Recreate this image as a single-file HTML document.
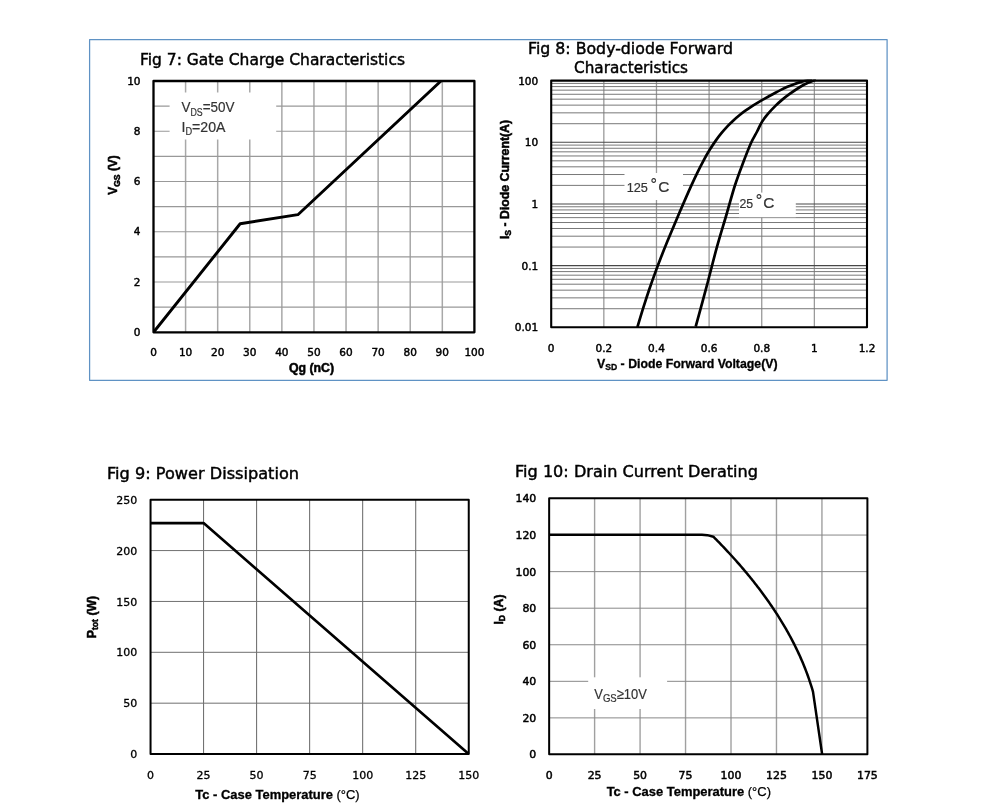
<!DOCTYPE html>
<html lang="en"><head><meta charset="utf-8"><title>Characteristics</title>
<style>html,body{margin:0;padding:0;background:#fff}svg{display:block}</style></head>
<body>
<svg width="987" height="812" viewBox="0 0 987 812">
<rect width="987" height="812" fill="#fff"/>
<rect x="89.60" y="39.55" width="797.50" height="340.70" fill="#fff" stroke="#5f92c4" stroke-width="1.25" stroke-linejoin="round"/>
<line x1="185.59" y1="81.00" x2="185.59" y2="332.30" stroke="#a8a8a8" stroke-width="1.5" />
<line x1="217.68" y1="81.00" x2="217.68" y2="332.30" stroke="#a8a8a8" stroke-width="1.5" />
<line x1="249.77" y1="81.00" x2="249.77" y2="332.30" stroke="#a8a8a8" stroke-width="1.5" />
<line x1="281.86" y1="81.00" x2="281.86" y2="332.30" stroke="#a8a8a8" stroke-width="1.5" />
<line x1="313.95" y1="81.00" x2="313.95" y2="332.30" stroke="#a8a8a8" stroke-width="1.5" />
<line x1="346.04" y1="81.00" x2="346.04" y2="332.30" stroke="#a8a8a8" stroke-width="1.5" />
<line x1="378.13" y1="81.00" x2="378.13" y2="332.30" stroke="#a8a8a8" stroke-width="1.5" />
<line x1="410.22" y1="81.00" x2="410.22" y2="332.30" stroke="#a8a8a8" stroke-width="1.5" />
<line x1="442.31" y1="81.00" x2="442.31" y2="332.30" stroke="#a8a8a8" stroke-width="1.5" />
<line x1="153.50" y1="106.13" x2="474.40" y2="106.13" stroke="#999999" stroke-width="1.1" />
<line x1="153.50" y1="131.26" x2="474.40" y2="131.26" stroke="#999999" stroke-width="1.1" />
<line x1="153.50" y1="156.39" x2="474.40" y2="156.39" stroke="#999999" stroke-width="1.1" />
<line x1="153.50" y1="181.52" x2="474.40" y2="181.52" stroke="#999999" stroke-width="1.1" />
<line x1="153.50" y1="206.65" x2="474.40" y2="206.65" stroke="#999999" stroke-width="1.1" />
<line x1="153.50" y1="231.78" x2="474.40" y2="231.78" stroke="#999999" stroke-width="1.1" />
<line x1="153.50" y1="256.91" x2="474.40" y2="256.91" stroke="#999999" stroke-width="1.1" />
<line x1="153.50" y1="282.04" x2="474.40" y2="282.04" stroke="#999999" stroke-width="1.1" />
<line x1="153.50" y1="307.17" x2="474.40" y2="307.17" stroke="#999999" stroke-width="1.1" />
<rect x="169.60" y="92.50" width="106.60" height="47.00" fill="#fff" stroke="none" stroke-width="1" />
<clipPath id="c1"><rect x="153.5" y="80.0" width="320.9" height="253.3"/></clipPath>
<polyline points="153.50,332.30 240.14,223.74 297.90,214.69 442.31,79.74" fill="none" stroke="#000" stroke-width="2.9" stroke-linejoin="round" clip-path="url(#c1)"/>
<rect x="153.50" y="81.00" width="320.90" height="251.30" fill="none" stroke="#000" stroke-width="2.3" stroke-linejoin="round"/>
<text x="140.00" y="65.20" font-family='"DejaVu Sans", "Liberation Sans", sans-serif' font-size="15.8" font-weight="normal" text-anchor="start" fill="#000" textLength="265" lengthAdjust="spacingAndGlyphs" stroke="#000" stroke-width="0.45" >Fig 7: Gate Charge Characteristics</text>
<text x="153.50" y="356.30" font-family='"DejaVu Sans", "Liberation Sans", sans-serif' font-size="10.5" font-weight="normal" text-anchor="middle" fill="#000" stroke="#000" stroke-width="0.45" >0</text>
<text x="185.59" y="356.30" font-family='"DejaVu Sans", "Liberation Sans", sans-serif' font-size="10.5" font-weight="normal" text-anchor="middle" fill="#000" stroke="#000" stroke-width="0.45" >10</text>
<text x="217.68" y="356.30" font-family='"DejaVu Sans", "Liberation Sans", sans-serif' font-size="10.5" font-weight="normal" text-anchor="middle" fill="#000" stroke="#000" stroke-width="0.45" >20</text>
<text x="249.77" y="356.30" font-family='"DejaVu Sans", "Liberation Sans", sans-serif' font-size="10.5" font-weight="normal" text-anchor="middle" fill="#000" stroke="#000" stroke-width="0.45" >30</text>
<text x="281.86" y="356.30" font-family='"DejaVu Sans", "Liberation Sans", sans-serif' font-size="10.5" font-weight="normal" text-anchor="middle" fill="#000" stroke="#000" stroke-width="0.45" >40</text>
<text x="313.95" y="356.30" font-family='"DejaVu Sans", "Liberation Sans", sans-serif' font-size="10.5" font-weight="normal" text-anchor="middle" fill="#000" stroke="#000" stroke-width="0.45" >50</text>
<text x="346.04" y="356.30" font-family='"DejaVu Sans", "Liberation Sans", sans-serif' font-size="10.5" font-weight="normal" text-anchor="middle" fill="#000" stroke="#000" stroke-width="0.45" >60</text>
<text x="378.13" y="356.30" font-family='"DejaVu Sans", "Liberation Sans", sans-serif' font-size="10.5" font-weight="normal" text-anchor="middle" fill="#000" stroke="#000" stroke-width="0.45" >70</text>
<text x="410.22" y="356.30" font-family='"DejaVu Sans", "Liberation Sans", sans-serif' font-size="10.5" font-weight="normal" text-anchor="middle" fill="#000" stroke="#000" stroke-width="0.45" >80</text>
<text x="442.31" y="356.30" font-family='"DejaVu Sans", "Liberation Sans", sans-serif' font-size="10.5" font-weight="normal" text-anchor="middle" fill="#000" stroke="#000" stroke-width="0.45" >90</text>
<text x="474.40" y="356.30" font-family='"DejaVu Sans", "Liberation Sans", sans-serif' font-size="10.5" font-weight="normal" text-anchor="middle" fill="#000" stroke="#000" stroke-width="0.45" >100</text>
<text x="140.50" y="335.80" font-family='"DejaVu Sans", "Liberation Sans", sans-serif' font-size="10.5" font-weight="normal" text-anchor="end" fill="#000" stroke="#000" stroke-width="0.45" >0</text>
<text x="140.50" y="285.54" font-family='"DejaVu Sans", "Liberation Sans", sans-serif' font-size="10.5" font-weight="normal" text-anchor="end" fill="#000" stroke="#000" stroke-width="0.45" >2</text>
<text x="140.50" y="235.28" font-family='"DejaVu Sans", "Liberation Sans", sans-serif' font-size="10.5" font-weight="normal" text-anchor="end" fill="#000" stroke="#000" stroke-width="0.45" >4</text>
<text x="140.50" y="185.02" font-family='"DejaVu Sans", "Liberation Sans", sans-serif' font-size="10.5" font-weight="normal" text-anchor="end" fill="#000" stroke="#000" stroke-width="0.45" >6</text>
<text x="140.50" y="134.76" font-family='"DejaVu Sans", "Liberation Sans", sans-serif' font-size="10.5" font-weight="normal" text-anchor="end" fill="#000" stroke="#000" stroke-width="0.45" >8</text>
<text x="140.50" y="84.50" font-family='"DejaVu Sans", "Liberation Sans", sans-serif' font-size="10.5" font-weight="normal" text-anchor="end" fill="#000" stroke="#000" stroke-width="0.45" >10</text>
<text x="181.50" y="112.00" font-family='"Liberation Sans", "DejaVu Sans", sans-serif' font-size="15.3" font-weight="normal" text-anchor="start" fill="#333333" textLength="53" lengthAdjust="spacingAndGlyphs" stroke="#333333" stroke-width="0.2" >V<tspan font-size="10" dy="3.5">DS</tspan><tspan dy="-3.5">=50V</tspan></text>
<text x="181.50" y="131.70" font-family='"Liberation Sans", "DejaVu Sans", sans-serif' font-size="15.3" font-weight="normal" text-anchor="start" fill="#333333" textLength="44" lengthAdjust="spacingAndGlyphs" stroke="#333333" stroke-width="0.2" >I<tspan font-size="10" dy="3.5">D</tspan><tspan dy="-3.5">=20A</tspan></text>
<text transform="translate(117.30,175.00) rotate(-90)" font-family='"Liberation Sans", "DejaVu Sans", sans-serif' font-size="11.9" font-weight="bold" text-anchor="middle" fill="#000" stroke="#000" stroke-width="0.5">V<tspan font-size="8.6" dy="3">GS</tspan><tspan dy="-3"> (V)</tspan></text>
<text x="311.50" y="372.40" font-family='"Liberation Sans", "DejaVu Sans", sans-serif' font-size="12.3" font-weight="bold" text-anchor="middle" fill="#000" stroke="#000" stroke-width="0.5" >Qg (nC)</text>
<line x1="603.83" y1="80.60" x2="603.83" y2="327.30" stroke="#9a9a9a" stroke-width="1.3" />
<line x1="656.47" y1="80.60" x2="656.47" y2="327.30" stroke="#9a9a9a" stroke-width="1.3" />
<line x1="709.10" y1="80.60" x2="709.10" y2="327.30" stroke="#9a9a9a" stroke-width="1.3" />
<line x1="761.73" y1="80.60" x2="761.73" y2="327.30" stroke="#9a9a9a" stroke-width="1.3" />
<line x1="814.37" y1="80.60" x2="814.37" y2="327.30" stroke="#9a9a9a" stroke-width="1.3" />
<line x1="551.20" y1="308.73" x2="867.00" y2="308.73" stroke="#787878" stroke-width="1.0" />
<line x1="551.20" y1="297.87" x2="867.00" y2="297.87" stroke="#787878" stroke-width="1.0" />
<line x1="551.20" y1="290.17" x2="867.00" y2="290.17" stroke="#787878" stroke-width="1.0" />
<line x1="551.20" y1="284.19" x2="867.00" y2="284.19" stroke="#787878" stroke-width="1.0" />
<line x1="551.20" y1="279.31" x2="867.00" y2="279.31" stroke="#787878" stroke-width="1.0" />
<line x1="551.20" y1="275.18" x2="867.00" y2="275.18" stroke="#787878" stroke-width="1.0" />
<line x1="551.20" y1="271.60" x2="867.00" y2="271.60" stroke="#787878" stroke-width="1.0" />
<line x1="551.20" y1="268.45" x2="867.00" y2="268.45" stroke="#787878" stroke-width="1.0" />
<line x1="551.20" y1="247.06" x2="867.00" y2="247.06" stroke="#787878" stroke-width="1.0" />
<line x1="551.20" y1="236.20" x2="867.00" y2="236.20" stroke="#787878" stroke-width="1.0" />
<line x1="551.20" y1="228.49" x2="867.00" y2="228.49" stroke="#787878" stroke-width="1.0" />
<line x1="551.20" y1="222.52" x2="867.00" y2="222.52" stroke="#787878" stroke-width="1.0" />
<line x1="551.20" y1="217.63" x2="867.00" y2="217.63" stroke="#787878" stroke-width="1.0" />
<line x1="551.20" y1="213.50" x2="867.00" y2="213.50" stroke="#787878" stroke-width="1.0" />
<line x1="551.20" y1="209.93" x2="867.00" y2="209.93" stroke="#787878" stroke-width="1.0" />
<line x1="551.20" y1="206.77" x2="867.00" y2="206.77" stroke="#787878" stroke-width="1.0" />
<line x1="551.20" y1="185.38" x2="867.00" y2="185.38" stroke="#787878" stroke-width="1.0" />
<line x1="551.20" y1="174.52" x2="867.00" y2="174.52" stroke="#787878" stroke-width="1.0" />
<line x1="551.20" y1="166.82" x2="867.00" y2="166.82" stroke="#787878" stroke-width="1.0" />
<line x1="551.20" y1="160.84" x2="867.00" y2="160.84" stroke="#787878" stroke-width="1.0" />
<line x1="551.20" y1="155.96" x2="867.00" y2="155.96" stroke="#787878" stroke-width="1.0" />
<line x1="551.20" y1="151.83" x2="867.00" y2="151.83" stroke="#787878" stroke-width="1.0" />
<line x1="551.20" y1="148.25" x2="867.00" y2="148.25" stroke="#787878" stroke-width="1.0" />
<line x1="551.20" y1="145.10" x2="867.00" y2="145.10" stroke="#787878" stroke-width="1.0" />
<line x1="551.20" y1="123.71" x2="867.00" y2="123.71" stroke="#787878" stroke-width="1.0" />
<line x1="551.20" y1="112.85" x2="867.00" y2="112.85" stroke="#787878" stroke-width="1.0" />
<line x1="551.20" y1="105.14" x2="867.00" y2="105.14" stroke="#787878" stroke-width="1.0" />
<line x1="551.20" y1="99.17" x2="867.00" y2="99.17" stroke="#787878" stroke-width="1.0" />
<line x1="551.20" y1="94.28" x2="867.00" y2="94.28" stroke="#787878" stroke-width="1.0" />
<line x1="551.20" y1="90.15" x2="867.00" y2="90.15" stroke="#787878" stroke-width="1.0" />
<line x1="551.20" y1="86.58" x2="867.00" y2="86.58" stroke="#787878" stroke-width="1.0" />
<line x1="551.20" y1="83.42" x2="867.00" y2="83.42" stroke="#787878" stroke-width="1.0" />
<line x1="551.20" y1="265.62" x2="867.00" y2="265.62" stroke="#484848" stroke-width="1.15" />
<line x1="551.20" y1="203.95" x2="867.00" y2="203.95" stroke="#484848" stroke-width="1.15" />
<line x1="551.20" y1="142.28" x2="867.00" y2="142.28" stroke="#484848" stroke-width="1.15" />
<rect x="624.50" y="173.00" width="58.50" height="27.00" fill="#fff" stroke="none" stroke-width="1" />
<rect x="739.00" y="192.60" width="56.80" height="24.60" fill="#fff" stroke="none" stroke-width="1" />
<clipPath id="c2"><rect x="551.2" y="79.6" width="315.79999999999995" height="248.70000000000002"/></clipPath>
<path d="M637.40,327.10 C638.40,323.82 641.40,313.75 643.40,307.40 C645.40,301.05 647.40,294.88 649.40,289.00 C651.40,283.12 653.40,277.55 655.40,272.10 C657.40,266.65 659.40,261.43 661.40,256.30 C663.40,251.17 665.40,246.20 667.40,241.30 C669.40,236.40 671.40,231.65 673.40,226.90 C675.40,222.15 677.40,217.47 679.40,212.80 C681.40,208.13 683.40,203.47 685.40,198.90 C687.40,194.33 689.40,189.78 691.40,185.40 C693.40,181.02 695.40,176.70 697.40,172.60 C699.40,168.50 701.40,164.52 703.40,160.80 C705.40,157.08 707.40,153.58 709.40,150.30 C711.40,147.02 713.40,143.95 715.40,141.10 C717.40,138.25 719.40,135.67 721.40,133.20 C723.40,130.73 725.40,128.43 727.40,126.30 C729.40,124.17 731.40,122.25 733.40,120.40 C735.40,118.55 737.40,116.82 739.40,115.20 C741.40,113.58 743.40,112.13 745.40,110.70 C747.40,109.27 749.40,107.90 751.40,106.60 C753.40,105.30 755.40,104.10 757.40,102.90 C759.40,101.70 761.40,100.55 763.40,99.40 C765.40,98.25 767.40,97.12 769.40,96.00 C771.40,94.88 773.40,93.77 775.40,92.70 C777.40,91.63 779.40,90.58 781.40,89.60 C783.40,88.62 785.40,87.67 787.40,86.80 C789.40,85.93 791.40,85.13 793.40,84.40 C795.40,83.67 797.40,83.00 799.40,82.40 C801.40,81.80 803.30,81.27 805.40,80.80 C807.50,80.33 810.90,79.80 812.00,79.60" fill="none" stroke="#000" stroke-width="2.7" clip-path="url(#c2)"/>
<path d="M695.70,326.70 C697.53,319.95 703.20,299.33 706.70,286.20 C710.20,273.07 713.40,259.85 716.70,247.90 C720.00,235.95 723.47,224.90 726.50,214.50 C729.53,204.10 732.12,194.17 734.90,185.50 C737.68,176.83 740.52,169.58 743.20,162.50 C745.88,155.42 748.68,148.17 751.00,143.00 C753.32,137.83 755.30,134.98 757.10,131.50 C758.90,128.02 759.97,125.07 761.80,122.10 C763.63,119.13 765.83,116.40 768.10,113.70 C770.37,111.00 773.13,108.17 775.40,105.90 C777.67,103.63 779.43,102.02 781.70,100.10 C783.97,98.18 785.95,96.58 789.00,94.40 C792.05,92.22 796.83,88.93 800.00,87.00 C803.17,85.07 805.33,84.03 808.00,82.80 C810.67,81.57 814.67,80.13 816.00,79.60" fill="none" stroke="#000" stroke-width="2.7" clip-path="url(#c2)"/>
<rect x="551.20" y="80.60" width="315.80" height="246.70" fill="none" stroke="#000" stroke-width="2.1" stroke-linejoin="round"/>
<text x="528.00" y="53.80" font-family='"DejaVu Sans", "Liberation Sans", sans-serif' font-size="15.8" font-weight="normal" text-anchor="start" fill="#000" textLength="205" lengthAdjust="spacingAndGlyphs" stroke="#000" stroke-width="0.45" >Fig 8: Body-diode Forward</text>
<text x="574.00" y="72.80" font-family='"DejaVu Sans", "Liberation Sans", sans-serif' font-size="15.8" font-weight="normal" text-anchor="start" fill="#000" textLength="114" lengthAdjust="spacingAndGlyphs" stroke="#000" stroke-width="0.45" >Characteristics</text>
<text x="551.20" y="351.80" font-family='"DejaVu Sans", "Liberation Sans", sans-serif' font-size="10.5" font-weight="normal" text-anchor="middle" fill="#000" stroke="#000" stroke-width="0.45" >0</text>
<text x="603.83" y="351.80" font-family='"DejaVu Sans", "Liberation Sans", sans-serif' font-size="10.5" font-weight="normal" text-anchor="middle" fill="#000" stroke="#000" stroke-width="0.45" >0.2</text>
<text x="656.47" y="351.80" font-family='"DejaVu Sans", "Liberation Sans", sans-serif' font-size="10.5" font-weight="normal" text-anchor="middle" fill="#000" stroke="#000" stroke-width="0.45" >0.4</text>
<text x="709.10" y="351.80" font-family='"DejaVu Sans", "Liberation Sans", sans-serif' font-size="10.5" font-weight="normal" text-anchor="middle" fill="#000" stroke="#000" stroke-width="0.45" >0.6</text>
<text x="761.73" y="351.80" font-family='"DejaVu Sans", "Liberation Sans", sans-serif' font-size="10.5" font-weight="normal" text-anchor="middle" fill="#000" stroke="#000" stroke-width="0.45" >0.8</text>
<text x="814.37" y="351.80" font-family='"DejaVu Sans", "Liberation Sans", sans-serif' font-size="10.5" font-weight="normal" text-anchor="middle" fill="#000" stroke="#000" stroke-width="0.45" >1</text>
<text x="867.00" y="351.80" font-family='"DejaVu Sans", "Liberation Sans", sans-serif' font-size="10.5" font-weight="normal" text-anchor="middle" fill="#000" stroke="#000" stroke-width="0.45" >1.2</text>
<text x="538.20" y="331.30" font-family='"DejaVu Sans", "Liberation Sans", sans-serif' font-size="10.5" font-weight="normal" text-anchor="end" fill="#000" stroke="#000" stroke-width="0.45" >0.01</text>
<text x="538.20" y="269.62" font-family='"DejaVu Sans", "Liberation Sans", sans-serif' font-size="10.5" font-weight="normal" text-anchor="end" fill="#000" stroke="#000" stroke-width="0.45" >0.1</text>
<text x="538.20" y="207.95" font-family='"DejaVu Sans", "Liberation Sans", sans-serif' font-size="10.5" font-weight="normal" text-anchor="end" fill="#000" stroke="#000" stroke-width="0.45" >1</text>
<text x="538.20" y="146.28" font-family='"DejaVu Sans", "Liberation Sans", sans-serif' font-size="10.5" font-weight="normal" text-anchor="end" fill="#000" stroke="#000" stroke-width="0.45" >10</text>
<text x="538.20" y="84.60" font-family='"DejaVu Sans", "Liberation Sans", sans-serif' font-size="10.5" font-weight="normal" text-anchor="end" fill="#000" stroke="#000" stroke-width="0.45" >100</text>
<text x="626.70" y="191.90" font-family='"Liberation Sans", "DejaVu Sans", sans-serif' font-size="13.7" font-weight="normal" text-anchor="start" fill="#333333" textLength="21.2" lengthAdjust="spacingAndGlyphs" stroke="#333333" stroke-width="0.2" >125</text>
<text x="653.80" y="189.80" font-family='"Liberation Sans", "DejaVu Sans", sans-serif' font-size="16.2" font-weight="normal" text-anchor="middle" fill="#333333" stroke="#333333" stroke-width="0.2" >°</text>
<text x="658.30" y="191.90" font-family='"Liberation Sans", "DejaVu Sans", sans-serif' font-size="15.4" font-weight="normal" text-anchor="start" fill="#333333" stroke="#333333" stroke-width="0.2" >C</text>
<text x="739.40" y="208.30" font-family='"Liberation Sans", "DejaVu Sans", sans-serif' font-size="13.7" font-weight="normal" text-anchor="start" fill="#333333" textLength="13.7" lengthAdjust="spacingAndGlyphs" stroke="#333333" stroke-width="0.2" >25</text>
<text x="759.10" y="206.20" font-family='"Liberation Sans", "DejaVu Sans", sans-serif' font-size="16.2" font-weight="normal" text-anchor="middle" fill="#333333" stroke="#333333" stroke-width="0.2" >°</text>
<text x="763.20" y="208.30" font-family='"Liberation Sans", "DejaVu Sans", sans-serif' font-size="15.4" font-weight="normal" text-anchor="start" fill="#333333" stroke="#333333" stroke-width="0.2" >C</text>
<text transform="translate(509.00,179.50) rotate(-90)" font-family='"Liberation Sans", "DejaVu Sans", sans-serif' font-size="12.3" font-weight="bold" text-anchor="middle" fill="#000" stroke="#000" stroke-width="0.5">I<tspan font-size="8.6" dy="2">S</tspan><tspan dy="-2"> - Diode Current(A)</tspan></text>
<text x="687.30" y="368.20" font-family='"Liberation Sans", "DejaVu Sans", sans-serif' font-size="12.3" font-weight="bold" text-anchor="middle" fill="#000" stroke="#000" stroke-width="0.3" >V<tspan font-size="8.6" dy="2">SD</tspan><tspan dy="-2"> - Diode Forward Voltage(V)</tspan></text>
<line x1="203.58" y1="499.70" x2="203.58" y2="754.05" stroke="#666666" stroke-width="1.0" />
<line x1="256.62" y1="499.70" x2="256.62" y2="754.05" stroke="#666666" stroke-width="1.0" />
<line x1="309.65" y1="499.70" x2="309.65" y2="754.05" stroke="#666666" stroke-width="1.0" />
<line x1="362.68" y1="499.70" x2="362.68" y2="754.05" stroke="#666666" stroke-width="1.0" />
<line x1="415.72" y1="499.70" x2="415.72" y2="754.05" stroke="#666666" stroke-width="1.0" />
<line x1="150.55" y1="550.57" x2="468.75" y2="550.57" stroke="#707070" stroke-width="1.0" />
<line x1="150.55" y1="601.44" x2="468.75" y2="601.44" stroke="#707070" stroke-width="1.0" />
<line x1="150.55" y1="652.31" x2="468.75" y2="652.31" stroke="#707070" stroke-width="1.0" />
<line x1="150.55" y1="703.18" x2="468.75" y2="703.18" stroke="#707070" stroke-width="1.0" />
<clipPath id="c3"><rect x="150.55" y="498.7" width="319.2" height="256.34999999999997"/></clipPath>
<polyline points="150.55,523.10 203.58,523.10 468.75,754.05" fill="none" stroke="#000" stroke-width="2.6" stroke-linejoin="round" clip-path="url(#c3)"/>
<rect x="150.55" y="499.70" width="318.20" height="254.35" fill="none" stroke="#000" stroke-width="2.0" stroke-linejoin="round"/>
<text x="107.00" y="479.20" font-family='"DejaVu Sans", "Liberation Sans", sans-serif' font-size="15.8" font-weight="normal" text-anchor="start" fill="#000" textLength="192" lengthAdjust="spacingAndGlyphs" stroke="#000" stroke-width="0.45" >Fig 9: Power Dissipation</text>
<text x="150.55" y="778.80" font-family='"DejaVu Sans", "Liberation Sans", sans-serif' font-size="11" font-weight="normal" text-anchor="middle" fill="#000" stroke="#000" stroke-width="0.3" >0</text>
<text x="203.58" y="778.80" font-family='"DejaVu Sans", "Liberation Sans", sans-serif' font-size="11" font-weight="normal" text-anchor="middle" fill="#000" stroke="#000" stroke-width="0.3" >25</text>
<text x="256.62" y="778.80" font-family='"DejaVu Sans", "Liberation Sans", sans-serif' font-size="11" font-weight="normal" text-anchor="middle" fill="#000" stroke="#000" stroke-width="0.3" >50</text>
<text x="309.65" y="778.80" font-family='"DejaVu Sans", "Liberation Sans", sans-serif' font-size="11" font-weight="normal" text-anchor="middle" fill="#000" stroke="#000" stroke-width="0.3" >75</text>
<text x="362.68" y="778.80" font-family='"DejaVu Sans", "Liberation Sans", sans-serif' font-size="11" font-weight="normal" text-anchor="middle" fill="#000" stroke="#000" stroke-width="0.3" >100</text>
<text x="415.72" y="778.80" font-family='"DejaVu Sans", "Liberation Sans", sans-serif' font-size="11" font-weight="normal" text-anchor="middle" fill="#000" stroke="#000" stroke-width="0.3" >125</text>
<text x="468.75" y="778.80" font-family='"DejaVu Sans", "Liberation Sans", sans-serif' font-size="11" font-weight="normal" text-anchor="middle" fill="#000" stroke="#000" stroke-width="0.3" >150</text>
<text x="137.30" y="758.15" font-family='"DejaVu Sans", "Liberation Sans", sans-serif' font-size="11" font-weight="normal" text-anchor="end" fill="#000" stroke="#000" stroke-width="0.3" >0</text>
<text x="137.30" y="707.28" font-family='"DejaVu Sans", "Liberation Sans", sans-serif' font-size="11" font-weight="normal" text-anchor="end" fill="#000" stroke="#000" stroke-width="0.3" >50</text>
<text x="137.30" y="656.41" font-family='"DejaVu Sans", "Liberation Sans", sans-serif' font-size="11" font-weight="normal" text-anchor="end" fill="#000" stroke="#000" stroke-width="0.3" >100</text>
<text x="137.30" y="605.54" font-family='"DejaVu Sans", "Liberation Sans", sans-serif' font-size="11" font-weight="normal" text-anchor="end" fill="#000" stroke="#000" stroke-width="0.3" >150</text>
<text x="137.30" y="554.67" font-family='"DejaVu Sans", "Liberation Sans", sans-serif' font-size="11" font-weight="normal" text-anchor="end" fill="#000" stroke="#000" stroke-width="0.3" >200</text>
<text x="137.30" y="503.80" font-family='"DejaVu Sans", "Liberation Sans", sans-serif' font-size="11" font-weight="normal" text-anchor="end" fill="#000" stroke="#000" stroke-width="0.3" >250</text>
<text transform="translate(96.00,617.00) rotate(-90)" font-family='"Liberation Sans", "DejaVu Sans", sans-serif' font-size="12.3" font-weight="bold" text-anchor="middle" fill="#000" stroke="#000" stroke-width="0.5">P<tspan font-size="8.6" dy="2">tot</tspan><tspan dy="-2"> (W)</tspan></text>
<text x="277.50" y="799.30" font-family='"Liberation Sans", "DejaVu Sans", sans-serif' font-size="12.95" font-weight="bold" text-anchor="middle" fill="#000" stroke="#000" stroke-width="0.3" >Tc - Case Temperature <tspan font-weight="normal" stroke-width="0.25">(°C)</tspan></text>
<line x1="594.61" y1="498.20" x2="594.61" y2="754.15" stroke="#a0a0a0" stroke-width="1.4" />
<line x1="640.08" y1="498.20" x2="640.08" y2="754.15" stroke="#a0a0a0" stroke-width="1.4" />
<line x1="685.54" y1="498.20" x2="685.54" y2="754.15" stroke="#a0a0a0" stroke-width="1.4" />
<line x1="731.01" y1="498.20" x2="731.01" y2="754.15" stroke="#a0a0a0" stroke-width="1.4" />
<line x1="776.47" y1="498.20" x2="776.47" y2="754.15" stroke="#a0a0a0" stroke-width="1.4" />
<line x1="821.94" y1="498.20" x2="821.94" y2="754.15" stroke="#a0a0a0" stroke-width="1.4" />
<line x1="549.15" y1="535.06" x2="867.40" y2="535.06" stroke="#888888" stroke-width="1.0" />
<line x1="549.15" y1="571.63" x2="867.40" y2="571.63" stroke="#888888" stroke-width="1.0" />
<line x1="549.15" y1="608.19" x2="867.40" y2="608.19" stroke="#888888" stroke-width="1.0" />
<line x1="549.15" y1="644.76" x2="867.40" y2="644.76" stroke="#888888" stroke-width="1.0" />
<line x1="549.15" y1="681.32" x2="867.40" y2="681.32" stroke="#888888" stroke-width="1.0" />
<line x1="549.15" y1="717.89" x2="867.40" y2="717.89" stroke="#888888" stroke-width="1.0" />
<rect x="588.20" y="677.30" width="78.90" height="31.70" fill="#fff" stroke="none" stroke-width="1" />
<clipPath id="c4"><rect x="549.15" y="497.2" width="318.25" height="257.95"/></clipPath>
<polyline points="549.15,534.76 701.91,534.76 707.37,535.13 713.37,536.69 714.28,537.60 715.19,538.51 716.09,539.43 717.00,540.36 717.91,541.29 718.82,542.22 719.73,543.16 720.64,544.10 721.55,545.04 722.46,545.99 723.37,546.94 724.28,547.90 725.19,548.87 726.10,549.83 727.01,550.80 727.92,551.78 728.82,552.76 729.73,553.75 730.64,554.74 731.55,555.73 732.46,556.73 733.37,557.74 734.28,558.75 735.19,559.77 736.10,560.79 737.01,561.81 737.92,562.85 738.83,563.88 739.74,564.93 740.65,565.98 741.55,567.03 742.46,568.09 743.37,569.16 744.28,570.24 745.19,571.32 746.10,572.40 747.01,573.50 747.92,574.59 748.83,575.70 749.74,576.81 750.65,577.93 751.56,579.06 752.47,580.20 753.38,581.34 754.28,582.49 755.19,583.65 756.10,584.81 757.01,585.99 757.92,587.17 758.83,588.36 759.74,589.56 760.65,590.76 761.56,591.98 762.47,593.21 763.38,594.44 764.29,595.69 765.20,596.94 766.11,598.21 767.01,599.48 767.92,600.77 768.83,602.06 769.74,603.37 770.65,604.69 771.56,606.02 772.47,607.36 773.38,608.72 774.29,610.09 775.20,611.47 776.11,612.86 777.02,614.27 777.93,615.69 778.84,617.13 779.74,618.59 780.65,620.05 781.56,621.54 782.47,623.04 783.38,624.56 784.29,626.10 785.20,627.65 786.11,629.23 787.02,630.82 787.93,632.44 788.84,634.08 789.75,635.74 790.66,637.42 791.57,639.13 792.47,640.87 793.38,642.63 794.29,644.42 795.20,646.24 796.11,648.09 797.02,649.98 797.93,651.89 798.84,653.85 799.75,655.84 800.66,657.88 801.57,659.96 802.48,662.09 803.39,664.26 804.30,666.49 805.20,668.78 806.11,671.13 807.02,673.55 807.93,676.05 808.84,678.63 809.75,681.30 810.66,684.07 811.57,686.95 812.48,689.97 813.02,691.85 822.12,754.15" fill="none" stroke="#000" stroke-width="2.5" stroke-linejoin="round" clip-path="url(#c4)"/>
<rect x="549.15" y="498.20" width="318.25" height="255.95" fill="none" stroke="#000" stroke-width="2.0" stroke-linejoin="round"/>
<text x="515.00" y="476.70" font-family='"DejaVu Sans", "Liberation Sans", sans-serif' font-size="15.8" font-weight="normal" text-anchor="start" fill="#000" textLength="243" lengthAdjust="spacingAndGlyphs" stroke="#000" stroke-width="0.45" >Fig 10: Drain Current Derating</text>
<text x="549.15" y="779.00" font-family='"DejaVu Sans", "Liberation Sans", sans-serif' font-size="10.9" font-weight="normal" text-anchor="middle" fill="#000" stroke="#000" stroke-width="0.5" >0</text>
<text x="594.61" y="779.00" font-family='"DejaVu Sans", "Liberation Sans", sans-serif' font-size="10.9" font-weight="normal" text-anchor="middle" fill="#000" stroke="#000" stroke-width="0.5" >25</text>
<text x="640.08" y="779.00" font-family='"DejaVu Sans", "Liberation Sans", sans-serif' font-size="10.9" font-weight="normal" text-anchor="middle" fill="#000" stroke="#000" stroke-width="0.5" >50</text>
<text x="685.54" y="779.00" font-family='"DejaVu Sans", "Liberation Sans", sans-serif' font-size="10.9" font-weight="normal" text-anchor="middle" fill="#000" stroke="#000" stroke-width="0.5" >75</text>
<text x="731.01" y="779.00" font-family='"DejaVu Sans", "Liberation Sans", sans-serif' font-size="10.9" font-weight="normal" text-anchor="middle" fill="#000" stroke="#000" stroke-width="0.5" >100</text>
<text x="776.47" y="779.00" font-family='"DejaVu Sans", "Liberation Sans", sans-serif' font-size="10.9" font-weight="normal" text-anchor="middle" fill="#000" stroke="#000" stroke-width="0.5" >125</text>
<text x="821.94" y="779.00" font-family='"DejaVu Sans", "Liberation Sans", sans-serif' font-size="10.9" font-weight="normal" text-anchor="middle" fill="#000" stroke="#000" stroke-width="0.5" >150</text>
<text x="867.40" y="779.00" font-family='"DejaVu Sans", "Liberation Sans", sans-serif' font-size="10.9" font-weight="normal" text-anchor="middle" fill="#000" stroke="#000" stroke-width="0.5" >175</text>
<text x="536.30" y="758.35" font-family='"DejaVu Sans", "Liberation Sans", sans-serif' font-size="10.9" font-weight="normal" text-anchor="end" fill="#000" stroke="#000" stroke-width="0.5" >0</text>
<text x="536.30" y="721.79" font-family='"DejaVu Sans", "Liberation Sans", sans-serif' font-size="10.9" font-weight="normal" text-anchor="end" fill="#000" stroke="#000" stroke-width="0.5" >20</text>
<text x="536.30" y="685.22" font-family='"DejaVu Sans", "Liberation Sans", sans-serif' font-size="10.9" font-weight="normal" text-anchor="end" fill="#000" stroke="#000" stroke-width="0.5" >40</text>
<text x="536.30" y="648.66" font-family='"DejaVu Sans", "Liberation Sans", sans-serif' font-size="10.9" font-weight="normal" text-anchor="end" fill="#000" stroke="#000" stroke-width="0.5" >60</text>
<text x="536.30" y="612.09" font-family='"DejaVu Sans", "Liberation Sans", sans-serif' font-size="10.9" font-weight="normal" text-anchor="end" fill="#000" stroke="#000" stroke-width="0.5" >80</text>
<text x="536.30" y="575.53" font-family='"DejaVu Sans", "Liberation Sans", sans-serif' font-size="10.9" font-weight="normal" text-anchor="end" fill="#000" stroke="#000" stroke-width="0.5" >100</text>
<text x="536.30" y="538.96" font-family='"DejaVu Sans", "Liberation Sans", sans-serif' font-size="10.9" font-weight="normal" text-anchor="end" fill="#000" stroke="#000" stroke-width="0.5" >120</text>
<text x="536.30" y="502.40" font-family='"DejaVu Sans", "Liberation Sans", sans-serif' font-size="10.9" font-weight="normal" text-anchor="end" fill="#000" stroke="#000" stroke-width="0.5" >140</text>
<text x="594.30" y="698.70" font-family='"Liberation Sans", "DejaVu Sans", sans-serif' font-size="14.8" font-weight="normal" text-anchor="start" fill="#333333" textLength="52.5" lengthAdjust="spacingAndGlyphs" stroke="#333333" stroke-width="0.2" >V<tspan font-size="11" dy="3.2">GS</tspan><tspan dy="-3.2">≥10V</tspan></text>
<text transform="translate(502.60,609.50) rotate(-90)" font-family='"Liberation Sans", "DejaVu Sans", sans-serif' font-size="12.3" font-weight="bold" text-anchor="middle" fill="#000" stroke="#000" stroke-width="0.5">I<tspan font-size="8.6" dy="2">D</tspan><tspan dy="-2"> (A)</tspan></text>
<text x="688.80" y="796.00" font-family='"Liberation Sans", "DejaVu Sans", sans-serif' font-size="12.95" font-weight="bold" text-anchor="middle" fill="#000" stroke="#000" stroke-width="0.3" >Tc - Case Temperature <tspan font-weight="normal" stroke-width="0.25">(°C)</tspan></text>
</svg>
</body></html>
